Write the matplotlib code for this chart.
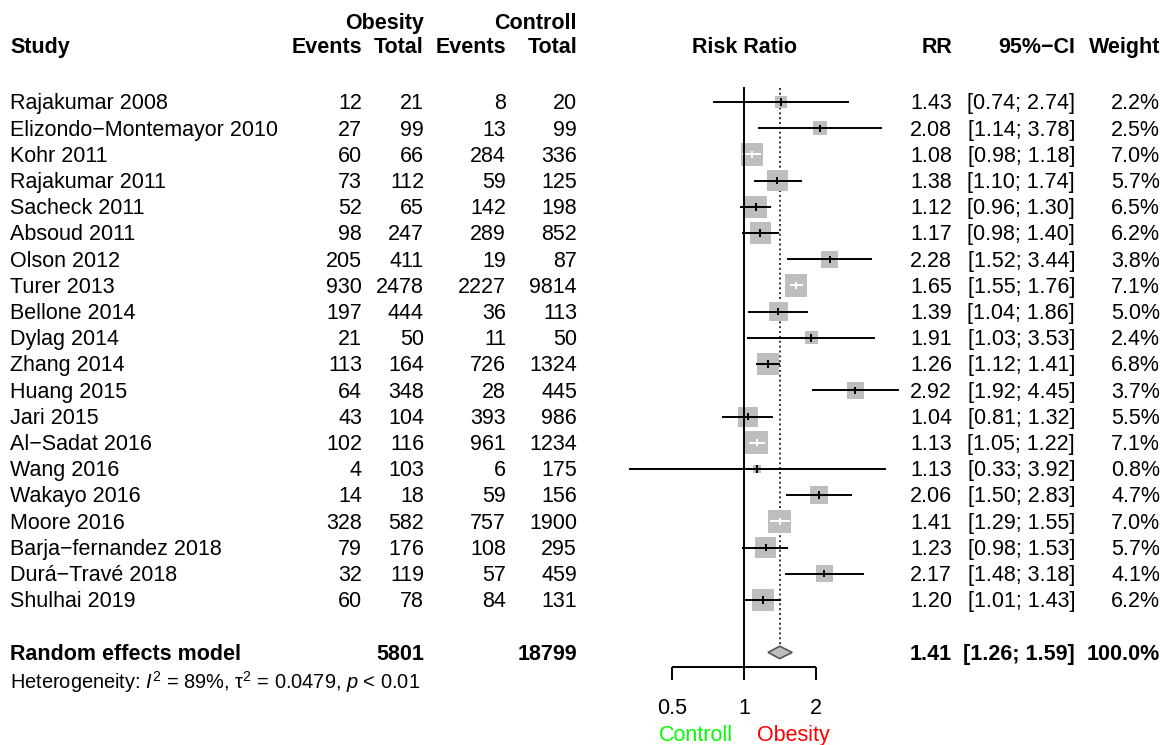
import numpy as np
import matplotlib
matplotlib.use("Agg")
import matplotlib.pyplot as plt
from matplotlib.patches import Polygon
from matplotlib import transforms

plt.rcParams['font.family'] = ['Liberation Sans', 'DejaVu Sans']
plt.rcParams['mathtext.fontset'] = 'custom'
plt.rcParams['mathtext.rm'] = 'Liberation Sans'
plt.rcParams['mathtext.it'] = 'Liberation Sans:italic'
plt.rcParams['mathtext.bf'] = 'Liberation Sans:bold'

# data
studies = ['Rajakumar 2008', 'Elizondo\u2212Montemayor 2010', 'Kohr 2011', 'Rajakumar 2011',
           'Sacheck 2011', 'Absoud 2011', 'Olson 2012', 'Turer 2013', 'Bellone 2014',
           'Dylag 2014', 'Zhang 2014', 'Huang 2015', 'Jari 2015', 'Al\u2212Sadat 2016',
           'Wang 2016', 'Wakayo 2016', 'Moore 2016', 'Barja\u2212fernandez 2018',
           'Durá\u2212Travé 2018', 'Shulhai 2019']
ev_obes = [12, 27, 60, 73, 52, 98, 205, 930, 197, 21, 113, 64, 43, 102, 4, 14, 328, 79, 32, 60]
n_obes = [21, 99, 66, 112, 65, 247, 411, 2478, 444, 50, 164, 348, 104, 116, 103, 18, 582, 176, 119, 78]
ev_ctrl = [8, 13, 284, 59, 142, 289, 19, 2227, 36, 11, 726, 28, 393, 961, 6, 59, 757, 108, 57, 84]
n_ctrl = [20, 99, 336, 125, 198, 852, 87, 9814, 113, 50, 1324, 445, 986, 1234, 175, 156, 1900, 295, 459, 131]
rr = [1.43, 2.08, 1.08, 1.38, 1.12, 1.17, 2.28, 1.65, 1.39, 1.91, 1.26, 2.92, 1.04, 1.13, 1.13,
      2.06, 1.41, 1.23, 2.17, 1.20]
ci_lo = [0.74, 1.14, 0.98, 1.10, 0.96, 0.98, 1.52, 1.55, 1.04, 1.03, 1.12, 1.92, 0.81, 1.05, 0.33,
         1.50, 1.29, 0.98, 1.48, 1.01]
ci_hi = [2.74, 3.78, 1.18, 1.74, 1.30, 1.40, 3.44, 1.76, 1.86, 3.53, 1.41, 4.45, 1.32, 1.22, 3.92,
         2.83, 1.55, 1.53, 3.18, 1.43]
weight = [2.2, 2.5, 7.0, 5.7, 6.5, 6.2, 3.8, 7.1, 5.0, 2.4, 6.8, 3.7, 5.5, 7.1, 0.8, 4.7, 7.0, 5.7, 4.1, 6.2]

pooled = 1.41
pooled_lo = 1.26
pooled_hi = 1.59
total_obes = 5801
total_ctrl = 18799
het_text = "Heterogeneity: $I^2$ = 89%, \u03c4$^2$ = 0.0479, $p$ < 0.01"

tick_vals = [0.5, 1, 2]
tick_labels = ['0.5', '1', '2']

W, H, DPI = 1173, 745, 100
row_px = 26.21
top_px = 102
fs = 15.5
off = 0.28  # baseline below row centre

fig = plt.figure(figsize=(W / DPI, H / DPI), dpi=DPI)
ylim = ((H - top_px) / row_px, -top_px / row_px)

# text layer, x in pixels, y in rows
tx = fig.add_axes([0, 0, 1, 1])
tx.set_xlim(0, W)
tx.set_ylim(*ylim)
tx.axis('off')

# forest layer, log scale: 1 -> 744 px, factor 2 -> 72 px
k = 72 / np.log(2)
x0, x1 = 0.25, 5.0
left_px = 744 + k * np.log(x0)
right_px = 744 + k * np.log(x1)
ax = fig.add_axes([left_px / W, 0, (right_px - left_px) / W, 1])
ax.set_xscale('log')
ax.set_xlim(x0, x1)
ax.set_ylim(*ylim)
ax.axis('off')
ax.patch.set_alpha(0)

# headers (baselines)
hy1, hy2 = -2.77, -1.86
tx.text(424, hy1, 'Obesity', ha='right', va='baseline', fontsize=fs, fontweight='bold')
tx.text(577, hy1, 'Controll', ha='right', va='baseline', fontsize=fs, fontweight='bold')
tx.text(10, hy2, 'Study', ha='left', va='baseline', fontsize=fs, fontweight='bold')
for xr, lab in zip([362, 424, 506, 577], ['Events', 'Total', 'Events', 'Total']):
    tx.text(xr, hy2, lab, ha='right', va='baseline', fontsize=fs, fontweight='bold')
tx.text(745, hy2, 'Risk Ratio', ha='center', va='baseline', fontsize=fs, fontweight='bold')
tx.text(952, hy2, 'RR', ha='right', va='baseline', fontsize=fs, fontweight='bold')
tx.text(1075, hy2, '95%\u2212CI', ha='right', va='baseline', fontsize=fs, fontweight='bold')
tx.text(1160, hy2, 'Weight', ha='right', va='baseline', fontsize=fs, fontweight='bold')

# study rows
for i, name in enumerate(studies):
    y = i + off
    tx.text(10, y, name, ha='left', va='baseline', fontsize=fs)
    tx.text(362, y, str(ev_obes[i]), ha='right', va='baseline', fontsize=fs)
    tx.text(424, y, str(n_obes[i]), ha='right', va='baseline', fontsize=fs)
    tx.text(506, y, str(ev_ctrl[i]), ha='right', va='baseline', fontsize=fs)
    tx.text(577, y, str(n_ctrl[i]), ha='right', va='baseline', fontsize=fs)
    tx.text(952, y, '%.2f' % rr[i], ha='right', va='baseline', fontsize=fs)
    tx.text(1075, y, '[%.2f; %.2f]' % (ci_lo[i], ci_hi[i]), ha='right', va='baseline', fontsize=fs)
    tx.text(1160, y, '%.1f%%' % weight[i], ha='right', va='baseline', fontsize=fs)

# pooled row
yp = len(studies) + 1
tx.text(10, yp + off, 'Random effects model', ha='left', va='baseline', fontsize=fs, fontweight='bold')
tx.text(424, yp + off, str(total_obes), ha='right', va='baseline', fontsize=fs, fontweight='bold')
tx.text(577, yp + off, str(total_ctrl), ha='right', va='baseline', fontsize=fs, fontweight='bold')
tx.text(952, yp + off, '%.2f' % pooled, ha='right', va='baseline', fontsize=fs, fontweight='bold')
tx.text(1075, yp + off, '[%.2f; %.2f]' % (pooled_lo, pooled_hi), ha='right', va='baseline',
        fontsize=fs, fontweight='bold')
tx.text(1160, yp + off, '100.0%', ha='right', va='baseline', fontsize=fs, fontweight='bold')
tx.text(10, 22.4, het_text, ha='left', va='baseline', fontsize=14.4)

# reference lines
lw = 1.4
ax.vlines(1, -0.586, 21.55, color='black', lw=lw, zorder=4)
ax.vlines(pooled, -0.53, yp - 0.26, color='#333333', lw=lw, linestyles=(0, (1, 1.5)), zorder=1)

# boxes and CIs
rows = np.arange(len(studies))
side_px = 22.7 * np.sqrt(np.array(weight) / max(weight))
ax.scatter(rr, rows, marker='s', s=(side_px * 72 / DPI) ** 2, color='#BEBEBE', linewidths=0, zorder=2)
for i in rows:
    cx = 744 + k * np.log(rr[i])
    inside = (744 + k * np.log(ci_lo[i]) >= cx - side_px[i] / 2) and \
             (744 + k * np.log(ci_hi[i]) <= cx + side_px[i] / 2)
    c = 'white' if inside else 'black'
    ax.hlines(i, ci_lo[i], ci_hi[i], color=c, lw=lw, zorder=3)
    ax.vlines(rr[i], i - 0.14, i + 0.14, color=c, lw=lw, zorder=3)

# diamond
dh = 0.236
ax.add_patch(Polygon([(pooled_lo, yp), (pooled, yp - dh), (pooled_hi, yp), (pooled, yp + dh)],
                     closed=True, facecolor='#BEBEBE', edgecolor='#555555', lw=1.2, zorder=3))

# x axis
ax.hlines(21.55, tick_vals[0], tick_vals[-1], color='black', lw=lw)
ax.vlines(tick_vals, 21.55, 22.05, color='black', lw=lw)
for v, lab in zip(tick_vals, tick_labels):
    ax.text(v, 23.35, lab, ha='center', va='baseline', fontsize=fs)

tr_l = transforms.offset_copy(ax.transData, fig=fig, x=-11 * 72 / DPI, y=0, units='points')
tr_r = transforms.offset_copy(ax.transData, fig=fig, x=13 * 72 / DPI, y=0, units='points')
ax.text(1, 24.37, 'Controll', ha='right', va='baseline', fontsize=fs, color='#00FF00',
        transform=tr_l)
ax.text(1, 24.37, 'Obesity', ha='left', va='baseline', fontsize=fs, color='#FF0000',
        transform=tr_r)

fig.savefig('out.png', dpi=DPI)
